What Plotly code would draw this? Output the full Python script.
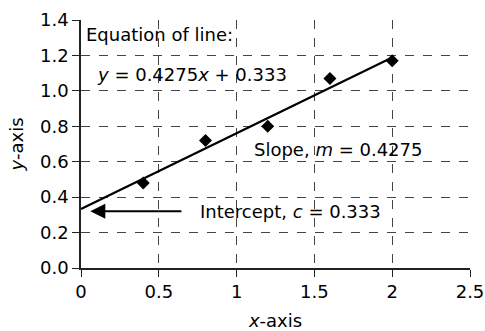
import plotly.graph_objects as go

# Measured points
x_data = [0.4, 0.8, 1.2, 1.6, 2.0]
y_data = [0.48, 0.72, 0.80, 1.07, 1.17]

# Fitted straight line y = m x + c
slope_m = 0.4275
intercept_c = 0.333
line_x = [0.0, 2.0]
line_y = [slope_m * v + intercept_c for v in line_x]

x_ticks = [0, 0.5, 1, 1.5, 2, 2.5]
x_tick_text = ["0", "0.5", "1", "1.5", "2", "2.5"]
y_ticks = [0.0, 0.2, 0.4, 0.6, 0.8, 1.0, 1.2, 1.4]
y_tick_text = ["0.0", "0.2", "0.4", "0.6", "0.8", "1.0", "1.2", "1.4"]

FONT = "DejaVu Sans, Verdana, sans-serif"
FS = 18

fig = go.Figure()
fig.add_trace(go.Scatter(x=line_x, y=line_y, mode="lines",
                         line=dict(color="black", width=2.2),
                         showlegend=False, hoverinfo="skip"))
fig.add_trace(go.Scatter(x=x_data, y=y_data, mode="markers",
                         marker=dict(symbol="diamond", size=10, color="black"),
                         showlegend=False))

ann_font = dict(family=FONT, size=FS, color="black")
fig.add_annotation(x=0.02, y=1.32, xref="x", yref="y", text="Equation of line:",
                   showarrow=False, xanchor="left", yanchor="middle", font=ann_font)
fig.add_annotation(x=0.09, y=1.095, xref="x", yref="y",
                   text=f"<i>y</i> = {slope_m}<i>x</i> + {intercept_c}",
                   showarrow=False, xanchor="left", yanchor="middle", font=ann_font)
fig.add_annotation(x=1.10, y=0.67, xref="x", yref="y",
                   text=f"Slope, <i>m</i> = {slope_m}",
                   showarrow=False, xanchor="left", yanchor="middle", font=ann_font)
fig.add_annotation(x=0.75, y=0.32, xref="x", yref="y",
                   text=f"Intercept, <i>c</i> = {intercept_c}",
                   showarrow=False, xanchor="left", yanchor="middle", font=ann_font)
# Arrow pointing at the intercept
fig.add_annotation(x=0.06, y=0.32, ax=0.655, ay=0.32, xref="x", yref="y",
                   axref="x", ayref="y", text="", showarrow=True,
                   arrowhead=2, arrowsize=1.5, arrowwidth=2, arrowcolor="black")

axis_common = dict(showline=True, linecolor="#222", linewidth=1.5,
                   showgrid=True, gridcolor="#444", gridwidth=1, griddash="dash",
                   zeroline=False, ticks="outside", ticklen=7, tickcolor="#222",
                   automargin=False,
                   tickfont=dict(family=FONT, size=FS, color="black"))

fig.update_xaxes(range=[0, 2.5], tickvals=x_ticks, ticktext=x_tick_text,
                 title=dict(text="<i>x</i>-axis", font=dict(family=FONT, size=FS, color="black"),
                            standoff=16),
                 **axis_common)
fig.update_yaxes(range=[0, 1.4], tickvals=y_ticks, ticktext=y_tick_text,
                 title=dict(text="<i>y</i>-axis", font=dict(family=FONT, size=FS, color="black"),
                            standoff=12),
                 **axis_common)

fig.update_layout(width=485, height=331,
                  margin=dict(l=81, r=15, t=20, b=63),
                  plot_bgcolor="white", paper_bgcolor="white",
                  font=dict(family=FONT, size=FS, color="black"))

fig.write_html("out.html")
